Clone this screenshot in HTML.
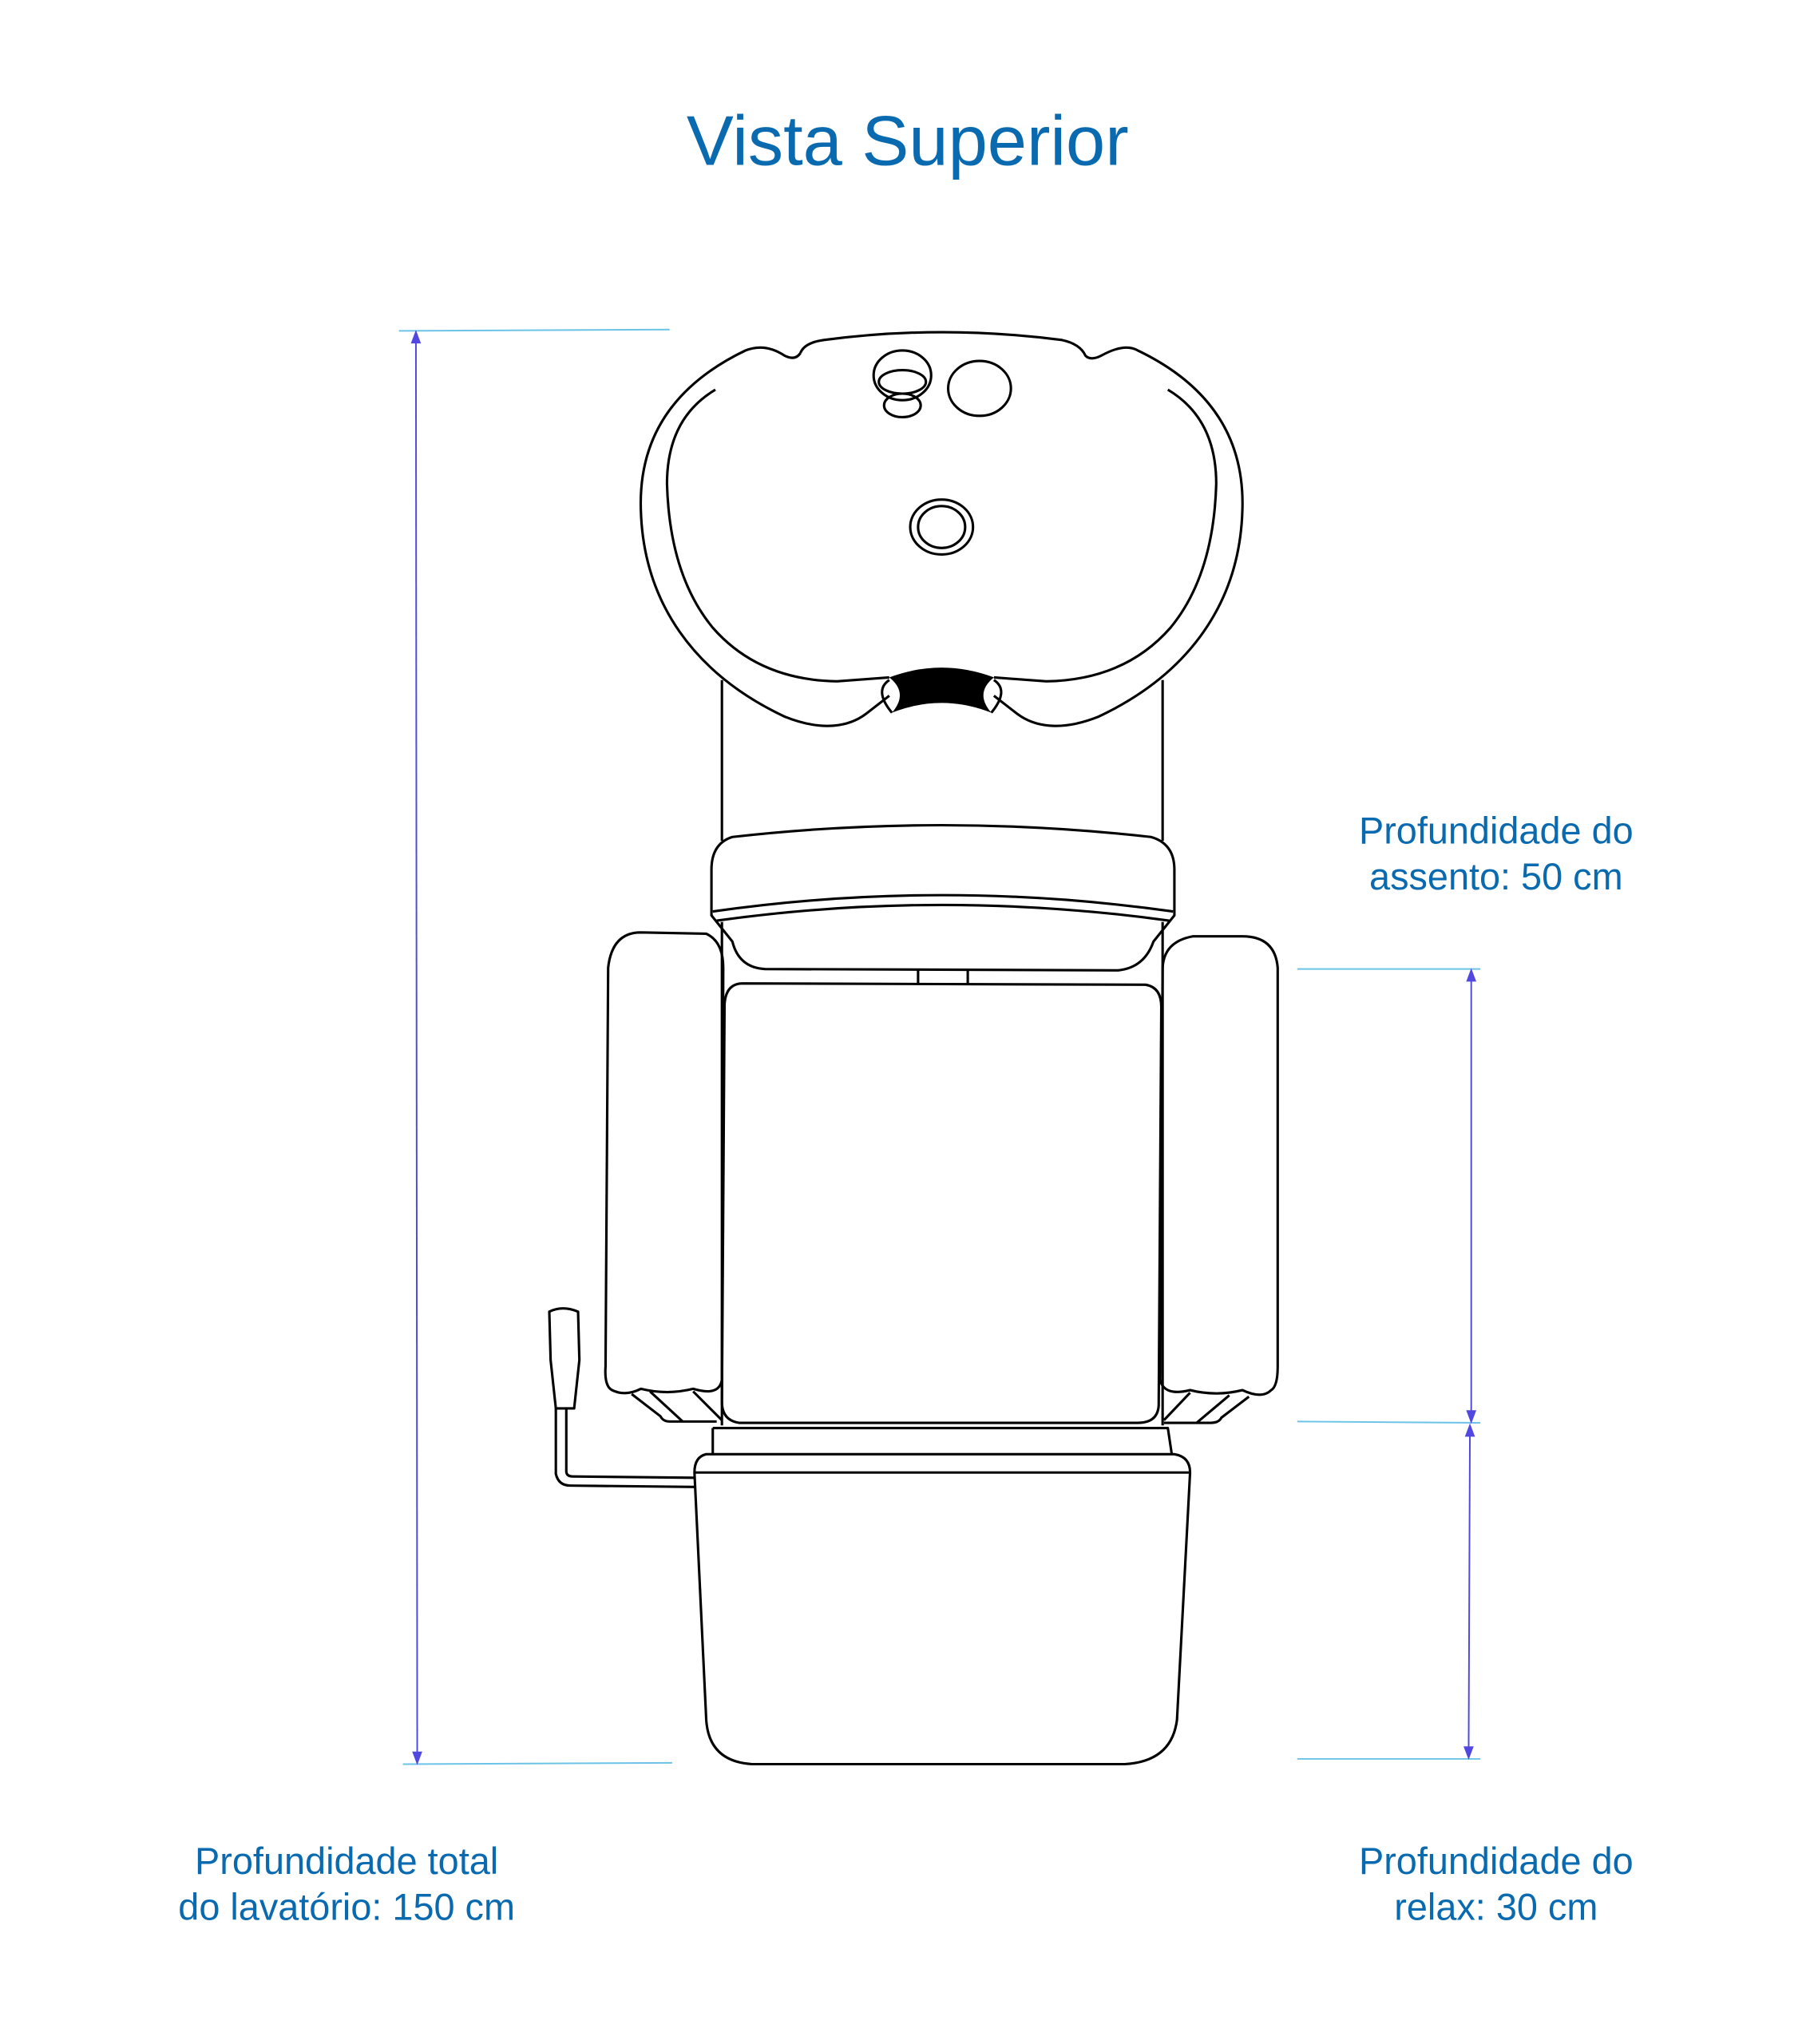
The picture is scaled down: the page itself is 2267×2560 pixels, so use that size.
<!DOCTYPE html>
<html><head><meta charset="utf-8"><style>
html,body{margin:0;padding:0;background:#fff;}
svg{display:block;}
text{font-family:"Liberation Sans",sans-serif;fill:#0a6ab0;}
</style></head><body>
<svg width="2267" height="2560" viewBox="0 0 1384 1563" xmlns="http://www.w3.org/2000/svg">
<text x="694" y="126" font-size="54" text-anchor="middle">Vista Superior</text>
<g font-size="28.6" text-anchor="middle">
<text x="1144" y="645">Profundidade do</text>
<text x="1144" y="680">assento: 50 cm</text>
<text x="265" y="1433">Profundidade total</text>
<text x="265" y="1468">do lavatório: 150 cm</text>
<text x="1144" y="1433">Profundidade do</text>
<text x="1144" y="1468">relax: 30 cm</text>
</g>
<g stroke="#6cc3e8" stroke-width="1.2">
<line x1="305" y1="253" x2="512" y2="252"/>
<line x1="308" y1="1349" x2="514" y2="1348"/>
<line x1="992" y1="741" x2="1132" y2="741"/>
<line x1="992" y1="1087" x2="1132" y2="1088"/>
<line x1="992" y1="1345" x2="1132" y2="1345"/>
</g>
<g stroke="#5048e0" stroke-width="1.2" fill="#5048e0">
<line x1="318" y1="256" x2="319" y2="1346"/>
<path d="M318 254 l-3 8 h6z"/><path d="M319 1348 l-3 -8 h6z"/>
<line x1="1125" y1="744" x2="1125" y2="1085"/>
<path d="M1125 742 l-3 8 h6z"/><path d="M1125 1087 l-3 -8 h6z"/>
<line x1="1124" y1="1092" x2="1123" y2="1342"/>
<path d="M1124 1090 l-3 8 h6z"/><path d="M1123 1344 l-3 -8 h6z"/>
</g>
<g fill="none" stroke="#000" stroke-width="1.9" stroke-linejoin="round">
<path d="M612 270 Q615 262 630 260 Q720 248 812 260 Q826 263 830 272 Q834 276 842 272 Q860 262 870 268 C 920 292 952 330 950 390 C 948 460 910 515 840 548 C 810 560 790 555 778 546 L760 532"/>
<path d="M680 532 L662 546 C 650 555 630 560 600 548 C 530 515 492 460 490 390 C 488 330 520 292 570 268 Q585 262 600 272 Q608 276 612 270"/>
<path d="M547 298 Q510 320 510 370 Q512 440 545 480 Q580 520 640 521 L680 518"/>
<path d="M893 298 Q930 320 930 370 Q928 440 895 480 Q860 520 800 521 L760 518"/>
<path d="M680 520 Q668 528 682 545"/><path d="M760 520 Q772 528 758 545"/>
<ellipse cx="690" cy="287" rx="22" ry="19"/>
<ellipse cx="690" cy="292" rx="18" ry="9"/>
<ellipse cx="690" cy="310" rx="14" ry="9"/>
<ellipse cx="749" cy="297" rx="24" ry="21"/>
<ellipse cx="720" cy="403" rx="24" ry="21"/>
<ellipse cx="720" cy="403" rx="18" ry="16"/>
<line x1="552" y1="520" x2="552" y2="643"/><line x1="889" y1="520" x2="889" y2="643"/>
<path d="M560 640 Q720 622 880 640 Q898 645 898 665 L898 700 L882 720 Q875 740 855 742 L585 741 Q565 740 560 720 L544 700 L544 665 Q544 645 560 640Z"/>
<path d="M545 697 Q720 672 897 697"/>
<path d="M548 704 Q720 680 894 704"/>
<line x1="552" y1="705" x2="552" y2="1090"/><line x1="889" y1="705" x2="889" y2="1090"/>
<path d="M702 741 V752 M740 741 V752"/>
<path d="M568 752 L876 753 Q888 755 888 770 L886 1075 Q885 1088 870 1088 L565 1088 Q552 1086 552 1072 L554 768 Q555 752 568 752Z"/>
<path d="M490 713 L540 714 Q553 720 553 740 L552 1055 Q550 1068 530 1062 Q510 1067 490 1062 Q478 1068 468 1063 Q462 1060 463 1045 L465 740 Q468 713 490 713Z"/>
<path d="M483 1066 L505 1083 Q507 1087 512 1087 L548 1087 M497 1064 L522 1087 M530 1064 L552 1086"/>
<path d="M950 716 L912 716 Q890 720 889 740 L887 1055 Q890 1068 910 1063 Q930 1068 950 1063 Q965 1070 972 1063 Q977 1060 977 1045 L977 740 Q975 716 950 716Z"/>
<path d="M955 1068 L934 1084 Q932 1088 926 1088 L890 1088 M940 1067 L915 1088 M910 1065 L890 1086"/>
<path d="M545 1092 L893 1092 L896 1112 M545 1092 L545 1112"/>
<path d="M540 1112 L898 1112 Q910 1114 910 1126 L900 1315 Q896 1347 860 1349 L575 1349 Q542 1347 540 1315 L531 1126 Q531 1114 540 1112Z"/>
<line x1="531" y1="1126" x2="910" y2="1126"/>
<path d="M420 1003 Q430 998 442 1003 L443 1040 L439 1077 L425 1077 L421 1040Z"/>
<path d="M425 1077 L425 1127 Q427 1136 436 1136 L531 1137 M433 1077 L433 1125 Q433 1129 438 1129 L531 1130"/>
</g>
<path d="M680 518 Q720 503 760 518 Q745 530 758 545 Q720 530 682 545 Q695 530 680 518Z" fill="#000"/>
</svg>
</body></html>
